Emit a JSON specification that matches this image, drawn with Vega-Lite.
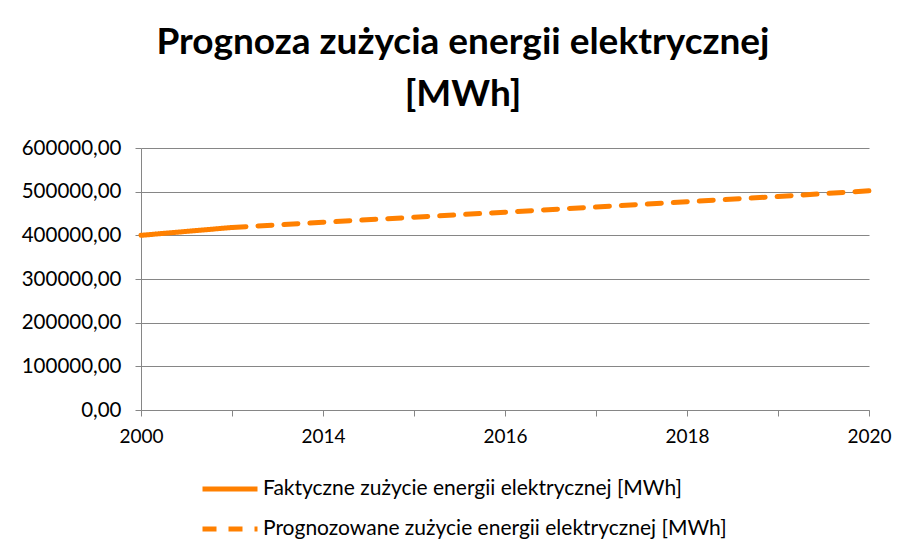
{
  "$schema": "https://vega.github.io/schema/vega-lite/v6.json",
  "width": 728,
  "height": 262,
  "autosize": "none",
  "padding": {"left": 141, "top": 148, "right": 54, "bottom": 147},
  "background": "white",
  "config": {
    "font": "Lato",
    "view": {"stroke": null}
  },
  "title": {
    "text": ["Prognoza zużycia energii elektrycznej", "[MWh]"],
    "fontSize": 37,
    "fontWeight": "bold",
    "font": "Lato",
    "color": "#000000",
    "anchor": "middle",
    "dx": -42,
    "offset": 24,
    "lineHeight": 52
  },
  "data": {
    "values": [
      {"rok": "2000", "wartosc": 400000, "seria": "Faktyczne zużycie energii elektrycznej [MWh]"},
      {"rok": "2013", "wartosc": 418000, "seria": "Faktyczne zużycie energii elektrycznej [MWh]"},
      {"rok": "2013", "wartosc": 418000, "seria": "Prognozowane zużycie energii elektrycznej [MWh]"},
      {"rok": "2014", "wartosc": 430000, "seria": "Prognozowane zużycie energii elektrycznej [MWh]"},
      {"rok": "2015", "wartosc": 441500, "seria": "Prognozowane zużycie energii elektrycznej [MWh]"},
      {"rok": "2016", "wartosc": 453000, "seria": "Prognozowane zużycie energii elektrycznej [MWh]"},
      {"rok": "2017", "wartosc": 465000, "seria": "Prognozowane zużycie energii elektrycznej [MWh]"},
      {"rok": "2018", "wartosc": 477000, "seria": "Prognozowane zużycie energii elektrycznej [MWh]"},
      {"rok": "2019", "wartosc": 489000, "seria": "Prognozowane zużycie energii elektrycznej [MWh]"},
      {"rok": "2020", "wartosc": 502000, "seria": "Prognozowane zużycie energii elektrycznej [MWh]"}
    ]
  },
  "mark": {"type": "line", "strokeWidth": 5, "strokeCap": "round", "strokeJoin": "round"},
  "encoding": {
    "x": {
      "field": "rok",
      "type": "ordinal",
      "scale": {"type": "point", "padding": 0},
      "axis": {
        "title": null,
        "labelAngle": 0,
        "labelExpr": "indexof(['2000','2014','2016','2018','2020'], datum.value) >= 0 ? datum.value : ''",
        "labelFontSize": 19,
        "labelColor": "#000000",
        "labelPadding": 11,
        "domainColor": "#868686",
        "tickColor": "#868686",
        "tickSize": 6,
        "grid": false
      }
    },
    "y": {
      "field": "wartosc",
      "type": "quantitative",
      "scale": {"domain": [0, 600000], "nice": false},
      "axis": {
        "title": null,
        "values": [0, 100000, 200000, 300000, 400000, 500000, 600000],
        "labelExpr": "replace(format(datum.value, '.2f'), '.', ',')",
        "labelFontSize": 20.5,
        "labelColor": "#000000",
        "labelPadding": 14,
        "domainColor": "#868686",
        "tickColor": "#868686",
        "tickSize": 6,
        "gridColor": "#868686",
        "gridWidth": 1
      }
    },
    "color": {
      "field": "seria",
      "type": "nominal",
      "scale": {"range": ["#FF8000", "#FF8000"]},
      "legend": {
        "title": null,
        "orient": "none",
        "legendX": 59,
        "legendY": 311,
        "direction": "vertical",
        "symbolType": "stroke",
        "symbolSize": 3025,
        "symbolStrokeWidth": 5,
        "labelFontSize": 21,
        "labelColor": "#000000",
        "labelOffset": 3,
        "labelLimit": 600,
        "rowPadding": -22
      }
    },
    "strokeDash": {
      "field": "seria",
      "type": "nominal",
      "scale": {"range": [[1, 0], [14, 12]]},
      "legend": {
        "title": null,
        "orient": "none",
        "legendX": 59,
        "legendY": 311,
        "direction": "vertical",
        "symbolType": "stroke",
        "symbolSize": 3025,
        "symbolStrokeWidth": 5,
        "labelFontSize": 21,
        "labelColor": "#000000",
        "labelOffset": 3,
        "labelLimit": 600,
        "rowPadding": -22
      }
    }
  }
}
